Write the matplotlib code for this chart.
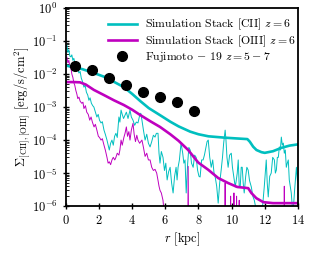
import numpy as np
import matplotlib
matplotlib.use("Agg")
import matplotlib.pyplot as plt

plt.rcParams["font.family"] = "serif"
plt.rcParams["font.serif"] = ["cmr10", "DejaVu Serif"]
plt.rcParams["mathtext.fontset"] = "cm"
plt.rcParams["axes.unicode_minus"] = False
plt.rcParams["axes.formatter.use_mathtext"] = True

# smooth stacked profiles
r_cii_smooth = [0.0, 0.5, 1.0, 1.7, 2.3, 2.9, 3.5, 4.0, 4.5, 5.0, 5.7, 6.3, 6.8, 7.5,
                8.0, 8.6, 9.6, 10.3, 10.95, 11.1, 11.3, 11.5, 11.8, 12.0, 12.5, 13.0,
                13.5, 14.0]
cii_smooth = [1.8e-2, 1.6e-2, 1.4e-2, 1.07e-2, 8.3e-3, 5.8e-3, 4.0e-3, 2.5e-3, 1.5e-3,
              9.3e-4, 5.6e-4, 3.6e-4, 2.6e-4, 1.8e-4, 1.5e-4, 1.3e-4, 1.18e-4,
              1.12e-4, 1.07e-4, 8.9e-5, 6.3e-5, 5.0e-5, 4.3e-5, 4.1e-5, 4.6e-5,
              5.8e-5, 6.8e-5, 7.4e-5]

r_oiii_smooth = [0.0, 0.5, 0.85, 1.2, 1.69, 2.3, 2.9, 3.5, 4.0, 4.47, 5.1, 5.68, 6.3,
                 6.8, 7.38, 7.98, 8.59, 9.19, 9.79, 10.34, 11.0, 11.19, 11.49, 11.91,
                 12.5, 14.0]
oiii_smooth = [5.7e-3, 5.7e-3, 5.6e-3, 4.8e-3, 3.3e-3, 2.3e-3, 1.6e-3, 1.15e-3, 8.3e-4,
               5.8e-4, 3.7e-4, 2.5e-4, 1.5e-4, 9.5e-5, 5.0e-5, 2.1e-5, 1.26e-5,
               7.1e-6, 5.0e-6, 3.8e-6, 3.5e-6, 2.5e-6, 1.74e-6, 1.32e-6, 1.23e-6,
               1.23e-6]

# noisy single profiles
r_cii_noisy = [0.00, 0.06, 0.12, 0.18, 0.24, 0.30, 0.36, 0.42, 0.48, 0.54, 0.60, 0.66,
               0.72, 0.79, 0.86, 0.93, 1.00, 1.09, 1.16, 1.24, 1.32, 1.39, 1.46, 1.54,
               1.62, 1.69, 1.78, 1.87, 1.95, 2.03, 2.12, 2.20, 2.30, 2.38, 2.48, 2.55,
               2.62, 2.70, 2.78, 2.86, 2.94, 3.02, 3.10, 3.20, 3.26, 3.33, 3.40, 3.48,
               3.57, 3.65, 3.75, 3.87, 3.95, 4.05, 4.15, 4.25, 4.35, 4.45, 4.52, 4.59,
               4.68, 4.78, 4.88, 4.98, 5.08, 5.18, 5.28, 5.38, 5.46, 5.56, 5.62, 5.68,
               5.76, 5.86, 5.95, 6.03, 6.11, 6.20, 6.29, 6.38, 6.47, 6.56, 6.65, 6.71,
               6.77, 6.85, 6.95, 7.05, 7.12, 7.19, 7.26, 7.35, 7.42, 7.50, 7.58, 7.68,
               7.77, 7.86, 7.95, 8.03, 8.10, 8.19, 8.28, 8.36, 8.45, 8.52, 8.59, 8.68,
               8.77, 8.86, 8.94, 9.01, 9.10, 9.19, 9.28, 9.37, 9.45, 9.52, 9.61, 9.66,
               9.72, 9.79, 9.88, 9.98, 10.05, 10.13, 10.22, 10.28, 10.34, 10.40, 10.46,
               10.52, 10.58, 10.64, 10.70, 10.76, 10.85, 10.92, 11.00, 11.08, 11.19,
               11.28, 11.37, 11.50, 11.61, 11.80, 11.97, 12.03, 12.09, 12.15, 12.21,
               12.30, 12.39, 12.48, 12.58, 12.64, 12.70, 12.76, 12.82, 12.88, 12.94,
               13.00, 13.06, 13.12, 13.18, 13.24, 13.30, 13.36, 13.42, 13.48, 13.54,
               13.60, 13.66, 13.72, 13.80, 13.91, 13.97, 14.03]
cii_noisy = [7.0e-2, 7.6e-2, 4.5e-2, 5.5e-2, 3.5e-2, 3.3e-2, 3.8e-2, 2.6e-2, 3.0e-2,
             2.2e-2, 2.1e-2, 1.7e-2, 1.4e-2, 1.07e-2, 1.2e-2, 7.5e-3, 6.0e-3, 4.0e-3,
             4.6e-3, 2.8e-3, 2.3e-3, 1.6e-3, 1.9e-3, 1.3e-3, 1.1e-3, 1.0e-3, 7.0e-4,
             5.0e-4, 6.0e-4, 4.0e-4, 3.3e-4, 3.6e-4, 2.0e-4, 1.5e-4, 1.0e-4, 7.0e-5,
             5.0e-5, 8.0e-5, 1.0e-4, 7.0e-5, 1.3e-4, 1.6e-4, 1.2e-4, 5.0e-4, 3.5e-4,
             8.1e-4, 6.0e-4, 4.5e-4, 5.7e-4, 7.0e-4, 4.5e-4, 8.1e-4, 5.0e-4, 4.0e-4,
             2.8e-4, 3.5e-4, 3.3e-4, 5.5e-4, 6.5e-4, 4.0e-4, 2.0e-4, 1.0e-4, 1.5e-4,
             8.0e-5, 6.2e-5, 9.0e-5, 1.4e-4, 1.23e-4, 1.6e-4, 1.6e-4, 4.0e-5, 2.0e-5,
             4.5e-5, 3.0e-5, 1.2e-5, 2.0e-5, 6.2e-6, 1.1e-5, 1.5e-5, 5.0e-6, 2.5e-6,
             8.0e-6, 1.5e-5, 6.2e-6, 1.5e-5, 2.5e-5, 8.1e-5, 4.0e-5, 2.0e-5, 2.5e-5,
             2.5e-6, 2.0e-5, 6.0e-5, 5.0e-5, 2.0e-5, 1.5e-5, 3.5e-5, 3.0e-5, 1.2e-5,
             8.0e-6, 7.6e-6, 2.5e-5, 2.5e-5, 3.5e-5, 6.0e-5, 9.0e-5, 1.0e-4, 3.0e-5,
             1.5e-5, 2.5e-5, 1.0e-5, 7.6e-6, 4.0e-6, 1.23e-6, 5.0e-6, 1.23e-5, 3.0e-5,
             8.0e-5, 2.0e-4, 1.0e-4, 3.0e-5, 1.5e-5, 3.5e-5, 4.0e-5, 1.5e-5, 8.0e-6,
             3.8e-6, 6.0e-6, 1.0e-5, 2.5e-5, 4.0e-6, 3.8e-6, 1.5e-5, 1.5e-5, 5.0e-6,
             2.5e-6, 8.0e-6, 1.5e-5, 1.23e-5, 6.0e-6, 3.8e-6, 2.0e-6, 1.5e-6, 7.0e-7,
             5.0e-7, 4.0e-7, 3.8e-6, 1.0e-5, 2.5e-5, 5.0e-6, 1.9e-6, 8.0e-6, 1.0e-5,
             3.0e-5, 2.5e-5, 1.0e-5, 1.23e-5, 3.0e-5, 3.0e-5, 6.2e-5, 5.0e-5, 1.23e-4,
             7.0e-5, 8.1e-5, 4.0e-5, 5.0e-5, 1.5e-5, 2.0e-5, 2.5e-5, 6.2e-6, 4.0e-6,
             2.5e-6, 1.0e-6, 7.6e-7, 3.0e-6, 1.5e-5, 6.0e-6, 5.0e-6]

r_oiii_noisy = [0.00, 0.06, 0.12, 0.18, 0.24, 0.30, 0.36, 0.42, 0.48, 0.54, 0.60, 0.66,
                0.72, 0.79, 0.86, 0.96, 1.03, 1.09, 1.18, 1.26, 1.35, 1.44, 1.52, 1.60,
                1.70, 1.78, 1.87, 1.96, 2.03, 2.12, 2.20, 2.30, 2.38, 2.48, 2.55, 2.62,
                2.70, 2.78, 2.86, 2.95, 3.02, 3.10, 3.20, 3.26, 3.33, 3.40, 3.50, 3.57,
                3.65, 3.72, 3.80, 3.87, 3.95, 4.05, 4.12, 4.20, 4.28, 4.35, 4.45, 4.59,
                4.68, 4.78, 4.88, 4.98, 5.08, 5.18, 5.28, 5.38, 5.48, 5.56, 5.62, 5.68,
                5.76, 5.86, 5.95, 6.05, 7.34, 7.38, 7.42, 9.58, 9.61, 9.64, 9.92, 9.94,
                9.96, 10.12, 10.14, 10.16, 10.28, 10.30, 10.32, 10.44, 10.46, 10.48,
                13.15, 13.18, 13.21, 14.10]
oiii_noisy = [3.0e-2, 3.3e-2, 2.2e-2, 2.6e-2, 1.6e-2, 1.6e-2, 1.0e-2, 8.0e-3, 5.5e-3,
              4.5e-3, 3.2e-3, 2.5e-3, 1.8e-3, 2.0e-3, 1.5e-3, 1.3e-3, 1.4e-3, 9.0e-4,
              1.1e-3, 7.0e-4, 6.0e-4, 4.0e-4, 5.0e-4, 3.5e-4, 2.5e-4, 3.0e-4, 2.0e-4,
              1.3e-4, 1.2e-4, 1.0e-4, 1.1e-4, 7.0e-5, 5.0e-5, 3.0e-5, 2.0e-5, 2.2e-5,
              1.8e-5, 2.5e-5, 3.0e-5, 2.5e-5, 3.0e-5, 4.0e-5, 3.5e-5, 5.0e-5, 1.0e-4,
              7.0e-5, 1.2e-4, 1.6e-4, 2.5e-4, 1.3e-4, 1.8e-4, 1.0e-4, 2.0e-4, 3.2e-4,
              1.5e-4, 9.0e-5, 1.4e-4, 1.0e-4, 8.0e-5, 1.0e-4, 6.0e-5, 3.2e-5, 4.0e-5,
              2.5e-5, 2.5e-5, 1.5e-5, 1.2e-5, 1.3e-5, 1.0e-5, 6.0e-6, 4.0e-6, 3.0e-6,
              2.5e-6, 1.5e-6, 5.0e-7, 1.0e-8, 1.0e-8, 1.6e-5, 1.0e-8, 1.0e-8, 5.0e-6,
              1.0e-8, 1.0e-8, 2.0e-6, 1.0e-8, 1.0e-8, 2.5e-6, 1.0e-8, 1.0e-8, 2.0e-6,
              1.0e-8, 1.0e-8, 1.5e-6, 1.0e-8, 1.0e-8, 4.0e-6, 1.0e-8, 1.0e-8]

# Fujimoto+19 stack
r_fuji = [0.54, 1.57, 2.6, 3.63, 4.66, 5.68, 6.71, 7.74]
sigma_fuji = [1.75e-2, 1.32e-2, 7.6e-3, 4.7e-3, 2.8e-3, 2.0e-3, 1.4e-3, 7.6e-4]

fig = plt.figure(figsize=(3.31, 2.57), dpi=100)
ax = fig.add_axes([0.199, 0.198, 0.701, 0.771])

ax.plot(r_cii_noisy, cii_noisy, color="c", lw=0.7)
ax.plot(r_oiii_noisy, oiii_noisy, color="m", lw=0.7)
ax.plot(r_cii_smooth, cii_smooth, color="c", lw=1.9,
        label=r"Simulation Stack [CII] $z=6$")
ax.plot(r_oiii_smooth, oiii_smooth, color="m", lw=1.9,
        label=r"Simulation Stack [OIII] $z=6$")
ax.plot(r_fuji, sigma_fuji, "o", color="k", ms=7,
        label=r"Fujimoto $-$ 19 $z=5-7$")

ax.set_yscale("log")
ax.set_xlim(0, 14)
ax.set_ylim(1e-6, 1e0)
ax.set_xticks([0, 2, 4, 6, 8, 10, 12, 14])
ax.set_xlabel(r"$r$ [kpc]", fontsize=9, labelpad=2)
ax.set_ylabel(r"$\Sigma_{\rm [CII],[OIII]}$ [erg/s/cm$^2$]", fontsize=9, labelpad=0)
ax.tick_params(which="major", direction="inout", length=5, width=1, labelsize=9)
ax.tick_params(which="minor", direction="in", length=2.5, width=0.6)
ax.tick_params(axis="x", which="minor", bottom=False)
for s in ax.spines.values():
    s.set_linewidth(1.3)

ax.legend(loc="upper right", bbox_to_anchor=(1.02, 0.99), frameon=False,
          fontsize=8.5, handlelength=2.4, borderaxespad=0.2, labelspacing=0.08,
          handletextpad=0.7)

fig.savefig("out.png", dpi=100)
